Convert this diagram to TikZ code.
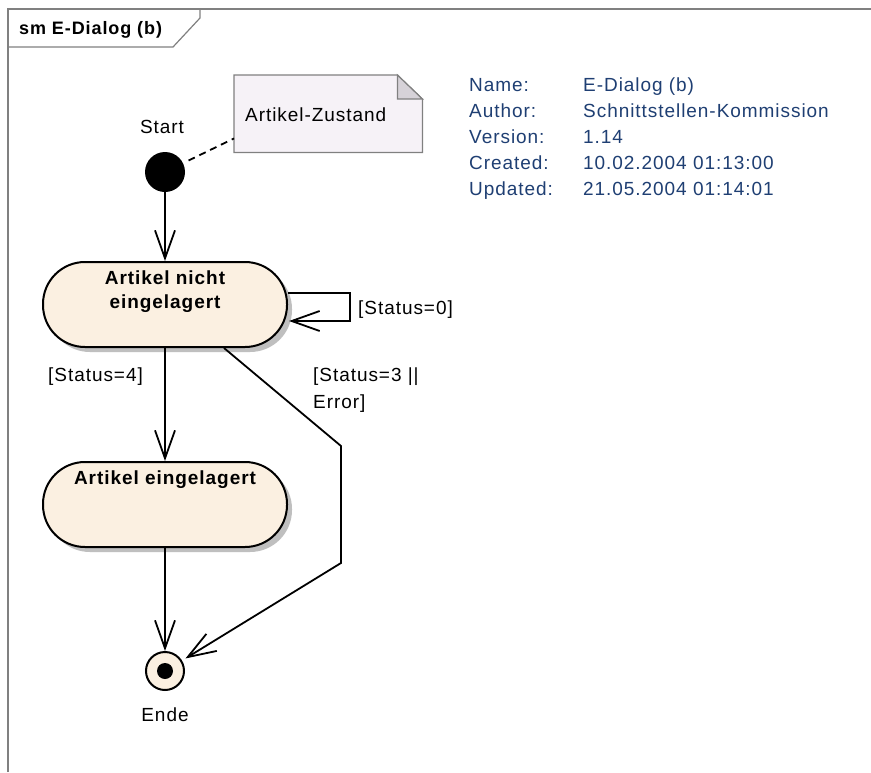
\documentclass[tikz,border=0pt]{standalone}
\usepackage{fontspec}
\setmainfont{Liberation Sans}[LetterSpace=5]
\usetikzlibrary{arrows.meta,shadows,calc}
\definecolor{statefill}{HTML}{FBF0E1}
\definecolor{notefill}{HTML}{F6F2F7}
\definecolor{foldfill}{HTML}{D6D2D8}
\definecolor{framegray}{HTML}{808080}
\definecolor{infoblue}{HTML}{1F3F73}
\tikzset{
  txt/.style={inner sep=0pt, font=\fontsize{19}{25}\selectfont},
  btxt/.style={inner sep=0pt, font=\fontsize{19}{24}\selectfont\bfseries, align=center},
  info/.style={txt, text=infoblue, anchor=base west},
  statebox/.style={draw, line width=2pt, fill=statefill, rounded corners=42pt,
    minimum width=244pt, minimum height=85pt, inner sep=0pt,
    drop shadow={shadow xshift=5pt, shadow yshift=-5pt, fill=black!25, opacity=1}},
  trans/.style={line width=1.8pt, -{Straight Barb[length=28pt, width=20pt, line width=1.8pt]}},
}
\begin{document}
\begin{tikzpicture}[x=1pt, y=-1pt]
\useasboundingbox (0,0) rectangle (871,772);
\fill[white] (0,0) rectangle (871,772);

% diagram frame and title tab
\draw[framegray, line width=2pt] (8,772) -- (8,9) -- (871,9);
\draw[framegray, line width=1.2pt] (8,47) -- (173,47) -- (200,18) -- (200,9);
\node[btxt, anchor=base west, font=\fontsize{18}{22}\selectfont\bfseries] (title) at (19,34) {sm E-Dialog (b)};

% note
\node[inner sep=0pt, minimum width=188pt, minimum height=77pt, anchor=north west] (note) at (234,75) {};
\draw[framegray, line width=1.2pt, fill=notefill]
  (note.north west) -- ($(note.north east)+(-25,0)$) -- ($(note.north east)+(0,24)$)
  -- (note.south east) -- (note.south west) -- cycle;
\draw[framegray, line width=1.2pt, fill=foldfill]
  ($(note.north east)+(-25,0)$) -- ($(note.north east)+(-25,24)$) -- ($(note.north east)+(0,24)$) -- cycle;
\node[txt, anchor=base west] (notetext) at (245,121) {Artikel-Zustand};

% initial state
\node[circle, fill=black, minimum size=40pt, inner sep=0pt] (start) at (165,172) {};
\node[txt, anchor=base] (startlbl) at (162,133) {Start};
\draw[line width=1.8pt, dash pattern=on 7pt off 5pt, shorten <=6pt] (start) -- ($(note.south west)+(0,-14)$);

% states
\node[statebox] (s1) at (165,304.5) {};
\node[btxt] (s1text) at (165,292) {Artikel nicht\\eingelagert};
\node[statebox] (s2) at (165,504.5) {};
\node[btxt, anchor=base] (s2text) at (165,484) {Artikel eingelagert};

% final state
\node[circle, draw, line width=2pt, fill=statefill, minimum size=38pt, inner sep=0pt] (end) at (165,671) {};
\node[circle, fill=black, minimum size=16pt, inner sep=0pt] (enddot) at (end.center) {};
\node[txt, anchor=base] (endlbl) at (165,721) {Ende};

% transitions
\draw[trans] (start) -- (s1);
\draw[trans] ([yshift=11.5pt]s1.east) -- ++(62,0) -- ++(0,28) -- ++(-61,0);
\node[txt, anchor=base west] (l0) at (358,314) {[Status=0]};
\draw[trans] (s1) -- (s2);
\node[txt, anchor=base west] (l4) at (48,381) {[Status=4]};
\draw[trans] (s2) -- (end);
\coordinate (b1) at (341,446);
\coordinate (b2) at (341,563);
\draw[trans, shorten >=4pt] ($(s1.south)+(59,0)$) -- (b1) -- (b2) -- (end);
\node[txt, anchor=base west] (l3a) at (313,381) {[Status=3 ||};
\node[txt, anchor=base west] (l3b) at (313,408) {Error]};

% diagram properties
\node[info] (k1) at (469,91) {Name:};
\node[info] (v1) at (583,91) {E-Dialog (b)};
\node[info] (k2) at (469,117) {Author:};
\node[info] (v2) at (583,117) {Schnittstellen-Kommission};
\node[info] (k3) at (469,143) {Version:};
\node[info] (v3) at (583,143) {1.14};
\node[info] (k4) at (469,169) {Created:};
\node[info] (v4) at (583,169) {10.02.2004 01:13:00};
\node[info] (k5) at (469,195) {Updated:};
\node[info] (v5) at (583,195) {21.05.2004 01:14:01};
\end{tikzpicture}
\end{document}
